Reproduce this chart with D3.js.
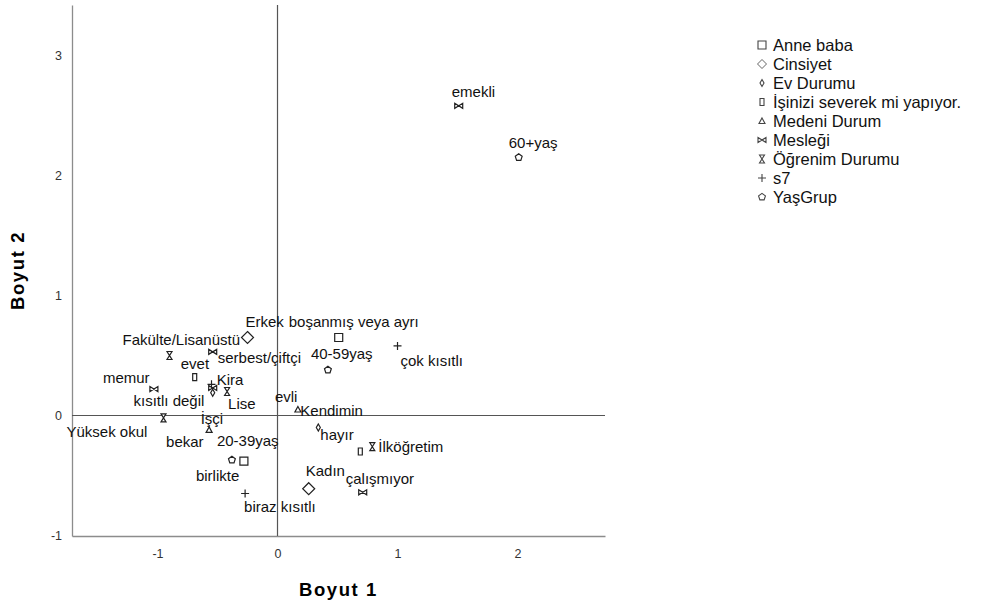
<!DOCTYPE html>
<html lang="tr">
<head>
    <meta charset="UTF-8">
    <title>Boyut 1 / Boyut 2</title>
    <style>
        body { margin: 0; background: #fff; }
        svg { font-family: "Liberation Sans", Arial, sans-serif; }
    </style>
</head>
<body>
    <div class="container"></div>
    <script src="https://cdn.jsdelivr.net/npm/d3@7/dist/d3.min.js"></script>
    <script>
        // legend order
        const groups = ["Anne baba", "Cinsiyet", "Ev Durumu", "İşinizi severek mi yapıyor.",
                        "Medeni Durum", "Mesleği", "Öğrenim Durumu", "s7", "YaşGrup"]

        // category points per variable: [label, boyut1, boyut2]
        const anneBaba = [["birlikte", -0.28, -0.38], ["boşanmış veya ayrı", 0.51, 0.65]]
        const cinsiyet = [["Erkek", -0.25, 0.65], ["Kadın", 0.26, -0.61]]
        const evDurumu = [["Kira", -0.54, 0.19], ["Kendimin", 0.34, -0.10]]
        const isiniziSeverek = [["evet", -0.69, 0.32], ["hayır", 0.69, -0.30]]
        const medeniDurum = [["evli", 0.17, 0.05], ["bekar", -0.57, -0.12]]
        const meslegi = [["emekli", 1.51, 2.58], ["serbest/çiftçi", -0.54, 0.53], ["memur", -1.03, 0.22],
                         ["İşçi", -0.54, 0.23], ["çalışmıyor", 0.71, -0.64]]
        const ogrenim = [["Fakülte/Lisanüstü", -0.90, 0.50], ["Lise", -0.42, 0.20],
                         ["Yüksek okul", -0.95, -0.02], ["İlköğretim", 0.79, -0.26]]
        const s7 = [["çok kısıtlı", 1.00, 0.58], ["kısıtlı değil", -0.55, 0.26], ["biraz kısıtlı", -0.27, -0.65]]
        const yasGrup = [["60+yaş", 2.01, 2.15], ["40-59yaş", 0.42, 0.38], ["20-39yaş", -0.38, -0.37]]

        const xTicks = [-1, 0, 1, 2]
        const yTicks = [-1, 0, 1, 2, 3]

        const series = [anneBaba, cinsiyet, evDurumu, isiniziSeverek, medeniDurum,
                        meslegi, ogrenim, s7, yasGrup]

        // label placement (text start / baseline relative to the marker)
        const labelOffset = {
            "emekli": [-7, -9], "60+yaş": [-10, -9], "Erkek": [-2, -10],
            "boşanmış veya ayrı": [-50, -10], "Fakülte/Lisanüstü": [-47, -10], "evet": [-14, -8],
            "serbest/çiftçi": [5, 11], "40-59yaş": [-17, -11], "çok kısıtlı": [3, 20],
            "memur": [-51, -6], "Kira": [4, -8], "kısıtlı değil": [-78, 22], "Lise": [1, 18],
            "evli": [-23, -7], "Kendimin": [-18, -11], "İşçi": [-12, 36], "Yüksek okul": [-97, 19],
            "hayır": [-40, -12], "İlköğretim": [6, 5], "bekar": [-43, 17], "20-39yaş": [-15, -14],
            "birlikte": [-48, 20], "Kadın": [-3, -13], "çalışmıyor": [-17, -8], "biraz kısıtlı": [-1, 18]
        }

        // marker shapes, one per variable
        const shapes = [
            p => { p.rect(-4, -4, 8, 8) },                                            // square
            p => { p.moveTo(0, -6); p.lineTo(6, 0); p.lineTo(0, 6); p.lineTo(-6, 0); p.closePath() },
            p => { p.moveTo(0, -3.5); p.lineTo(2, 0); p.lineTo(0, 3.5); p.lineTo(-2, 0); p.closePath() },
            p => { p.rect(-2, -3.5, 4, 7) },
            p => { p.moveTo(0, -3); p.lineTo(3, 2.5); p.lineTo(-3, 2.5); p.closePath() },
            p => { p.moveTo(-4, -2.5); p.lineTo(4, 2.5); p.lineTo(4, -2.5); p.lineTo(-4, 2.5); p.closePath() },
            p => { p.moveTo(-2.5, -4); p.lineTo(2.5, -4); p.lineTo(-2.5, 4); p.lineTo(2.5, 4); p.closePath() },
            p => { p.moveTo(-4, 0); p.lineTo(4, 0); p.moveTo(0, -4); p.lineTo(0, 4) },
            p => {
                for (let i = 0; i < 5; i++) {
                    const a = -Math.PI / 2 + i * 2 * Math.PI / 5
                    i ? p.lineTo(3.6 * Math.cos(a), 3.6 * Math.sin(a)) : p.moveTo(3.6 * Math.cos(a), 3.6 * Math.sin(a))
                }
                p.closePath()
            }
        ]
        const shapePath = i => { const p = d3.path(); shapes[i](p); return p.toString() }

        const width = 991
        const height = 613
        const plot = { left: 72, right: 605, top: 5, bottom: 536 }

        const svg = d3.select('.container').append("svg")
            .attr("width", width)
            .attr("height", height)

        const xScale = d3.scaleLinear().domain([-1.7125, 2.729]).range([plot.left, plot.right])
        const yScale = d3.scaleLinear().domain([-1.004, 3.42]).range([plot.bottom, plot.top])

        // axes
        const plain = d => String(d)
        svg.append("g")
            .attr("transform", `translate(0,${plot.bottom})`)
            .call(d3.axisBottom(xScale).tickValues(xTicks).tickSize(0).tickPadding(13).tickFormat(plain))
        svg.append("g")
            .attr("transform", `translate(${plot.left},0)`)
            .call(d3.axisLeft(yScale).tickValues(yTicks).tickSize(0).tickPadding(10).tickFormat(plain))

        svg.selectAll(".domain").attr("stroke", "#8c8c8c").attr("stroke-width", 1.3)
        svg.selectAll(".tick text")
            .attr("font-size", 12.5)
            .attr("fill", "#333")
            .attr("font-family", "Liberation Sans, Arial, sans-serif")

        // reference lines through origin
        svg.append("line")
            .attr("x1", plot.left).attr("x2", plot.right)
            .attr("y1", yScale(0)).attr("y2", yScale(0))
            .attr("stroke", "#555").attr("stroke-width", 1.2)
        svg.append("line")
            .attr("x1", xScale(0)).attr("x2", xScale(0))
            .attr("y1", plot.top).attr("y2", plot.bottom)
            .attr("stroke", "#555").attr("stroke-width", 1.2)

        // axis titles
        svg.append("text")
            .attr("x", (plot.left + plot.right) / 2).attr("y", 596)
            .attr("text-anchor", "middle")
            .attr("font-size", 18.5).attr("font-weight", "bold")
            .attr("letter-spacing", 1.6)
            .text("Boyut 1")
        svg.append("text")
            .attr("transform", `translate(24,${(plot.top + plot.bottom) / 2}) rotate(-90)`)
            .attr("text-anchor", "middle")
            .attr("font-size", 18.5).attr("font-weight", "bold")
            .attr("letter-spacing", 1.6)
            .text("Boyut 2")

        // points and labels
        const points = svg.append("g").attr("class", "points")
        series.forEach((data, gi) => {
            const g = points.append("g")
            g.selectAll("path").data(data).join("path")
                .attr("d", shapePath(gi))
                .attr("transform", d => `translate(${xScale(d[1])},${yScale(d[2])})`)
                .attr("fill", gi === 7 ? "none" : "#fff")
                .attr("stroke", "#222")
                .attr("stroke-width", 1.2)
            g.selectAll("text").data(data).join("text")
                .attr("x", d => xScale(d[1]) + labelOffset[d[0]][0])
                .attr("y", d => yScale(d[2]) + labelOffset[d[0]][1])
                .attr("font-size", 15)
                .attr("fill", "#111")
                .text(d => d[0])
        })

        // legend
        const legend = svg.append("g").attr("transform", "translate(762,45)")
        const items = legend.selectAll("g").data(groups).join("g")
            .attr("transform", (d, i) => `translate(0,${i * 19})`)
        items.append("path")
            .attr("d", (d, i) => shapePath(i))
            .attr("transform", (d, i) => i === 1 ? "scale(0.75)" : null)
            .attr("fill", (d, i) => i === 7 ? "none" : "#fff")
            .attr("stroke", "#444")
            .attr("stroke-width", 1.1)
        items.append("text")
            .attr("x", 11).attr("y", 5.5)
            .attr("font-size", 16.5)
            .attr("fill", "#111")
            .text(d => d)
    </script>
</body>
</html>
